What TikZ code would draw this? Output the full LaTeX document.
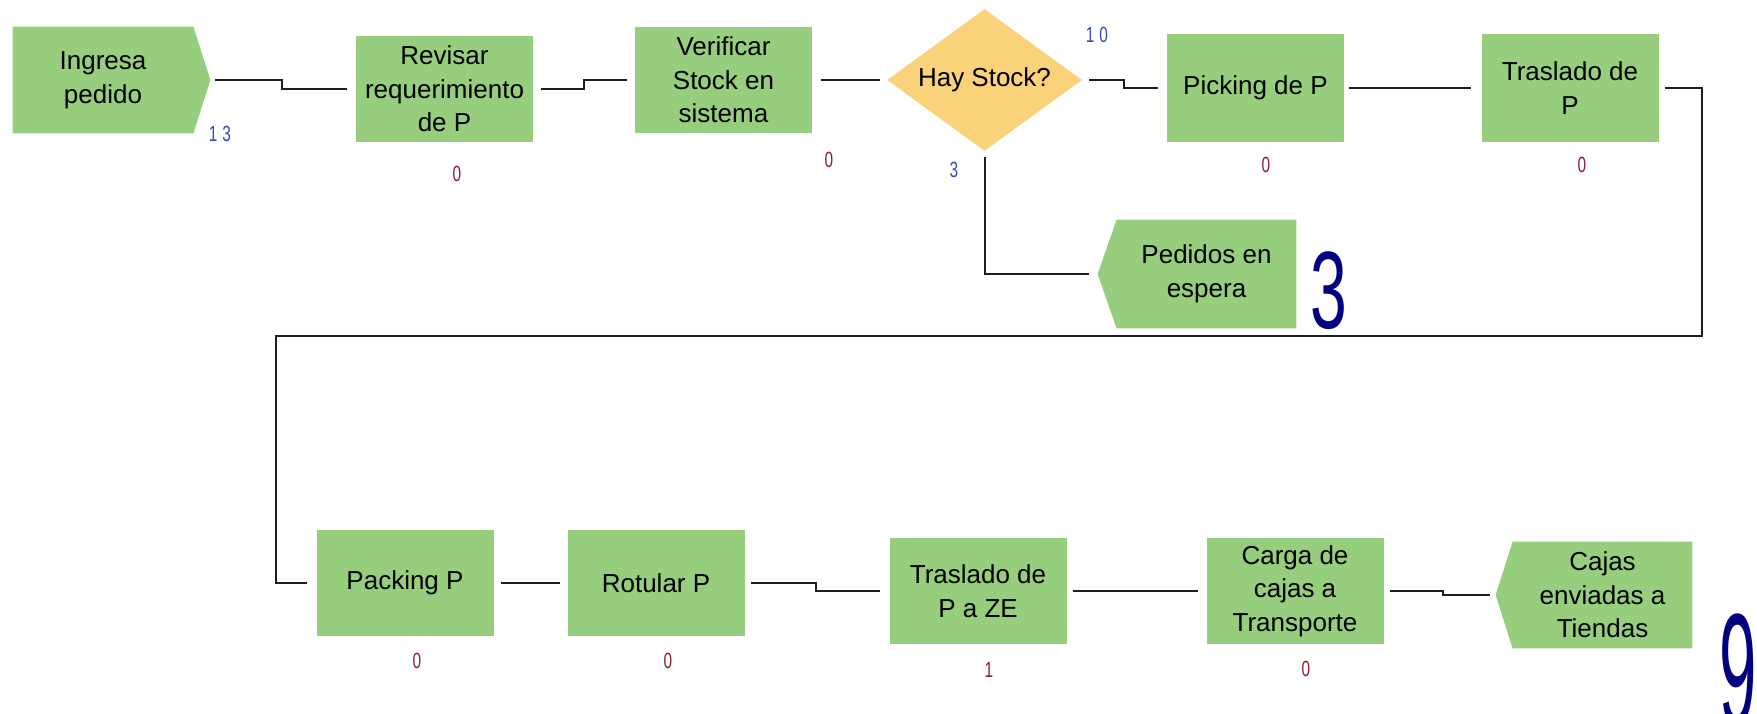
\documentclass[tikz,border=0pt]{standalone}
\usepackage{fontspec}
\setmainfont{Liberation Sans}
\usetikzlibrary{shapes.geometric,backgrounds}
\definecolor{boxgreen}{RGB}{150,206,125}
\definecolor{diayellow}{RGB}{250,210,122}
\definecolor{lblred}{RGB}{140,30,50}
\definecolor{lblblue}{RGB}{60,70,200}
\definecolor{bignavy}{RGB}{0,0,128}
\definecolor{linecol}{RGB}{30,30,30}
\tikzset{
  proc/.style={rectangle, fill=boxgreen, inner sep=0pt, minimum width=88.5pt, minimum height=53pt, align=center, font=\fontsize{13}{16.8}\selectfont},
  bodybox/.style={rectangle, inner sep=0pt, minimum width=90pt, minimum height=53pt, align=center, font=\fontsize{13}{16.8}\selectfont},
  decision/.style={diamond, fill=diayellow, inner sep=0pt, minimum width=97.5pt, minimum height=71pt, aspect=1.37, align=center, font=\fontsize{13}{16.8}\selectfont},
  conn/.style={draw=linecol, line width=1pt},
  cnt/.style={text=lblred, inner sep=0pt, font=\fontsize{11}{11}\selectfont, xscale=0.7},
  cntb/.style={text=lblblue, inner sep=0pt, font=\fontsize{11}{11}\selectfont, xscale=0.7},
  big/.style={text=bignavy, inner sep=0pt}
}
\begin{document}
\begin{tikzpicture}[x=0.5pt, y=-0.5pt]
\useasboundingbox (0,0) rectangle (1757,713);

% input / output shapes (body + pointer)
\node[bodybox] (in) at (103,80) {Ingresa\\pedido};
\node[bodybox, minimum width=89.5pt, minimum height=54pt] (ped) at (1206.5,274) {Pedidos en\\espera};
\node[bodybox, minimum width=89.5pt, minimum height=53pt] (out) at (1602.5,595) {Cajas\\enviadas a\\Tiendas};
\begin{scope}[on background layer]
\fill[boxgreen] (in.north west) -- (in.north east) -- ([xshift=8.5pt]in.east) -- (in.south east) -- (in.south west) -- cycle;
\fill[boxgreen] (ped.north east) -- (ped.north west) -- ([xshift=-9.5pt]ped.west) -- (ped.south west) -- (ped.south east) -- cycle;
\fill[boxgreen] (out.north east) -- (out.north west) -- ([xshift=-8.5pt]out.west) -- (out.south west) -- (out.south east) -- cycle;
\end{scope}

% process boxes
\node[proc] (rev) at (444.5,89) {Revisar\\requerimiento\\de P};
\node[proc] (ver) at (723.5,80) {Verificar\\Stock en\\sistema};
\node[decision] (dia) at (984.5,80) {Hay Stock?};
\node[proc, minimum height=54pt] (pick) at (1255.5,88) {Picking de P};
\node[proc, minimum height=54pt] (tr) at (1570,88) {Traslado de\\P};
\node[proc] (pack) at (405,583) {Packing P};
\node[proc] (rot) at (656,583) {Rotular P};
\node[proc] (ze) at (978,591) {Traslado de\\P a ZE};
\node[proc] (car) at (1295,591) {Carga de\\cajas a\\Transporte};

% connectors
\draw[conn] ([xshift=11pt]in.east) -- ++(67,0) |- ([xshift=-4.5pt]rev.west);
\draw[conn] ([xshift=4pt]rev.east) -- ++(43,0) |- ([xshift=-4pt]ver.west);
\draw[conn] ([xshift=4.5pt]ver.east) -- ([xshift=-3.5pt]dia.west);
\draw[conn] ([xshift=3.5pt]dia.east) -- ++(35,0) |- ([xshift=-4.5pt]pick.west);
\draw[conn] ([xshift=2.5pt]pick.east) -- ([xshift=-5pt]tr.west);
\draw[conn] ([xshift=3pt]tr.east) -- ++(37,0) |- (276,336) |- ([xshift=-4.5pt]pack.west);
\draw[conn] ([yshift=-3pt]dia.south) |- ([xshift=-14pt]ped.west);
\draw[conn] ([xshift=3.5pt]pack.east) -- ([xshift=-3.5pt]rot.west);
\draw[conn] ([xshift=3pt]rot.east) -- ++(65,0) |- ([xshift=-4.5pt]ze.west);
\draw[conn] ([xshift=3pt]ze.east) -- ([xshift=-4pt]car.west);
\draw[conn] ([xshift=3pt]car.east) -- ++(53,0) |- ([xshift=-11.5pt]out.west);

% counters
\node[cntb] (c13) at (220,134) {1\hspace{3.5pt}3};
\node[cnt] (crev) at (457,174) {0};
\node[cnt] (cver) at (829,160) {0};
\node[cntb] (c10) at (1097,35) {1\hspace{3.5pt}0};
\node[cntb] (cdia) at (954,170) {3};
\node[cnt] (cpick) at (1266,165) {0};
\node[cnt] (ctr) at (1582,165) {0};
\node[cnt] (cpack) at (417,661) {0};
\node[cnt] (crot) at (668,661) {0};
\node[cnt] (cze) at (989,670) {1};
\node[cnt] (ccar) at (1306,669) {0};

% big totals
\node[big, font=\fontsize{55}{55}\selectfont, xscale=0.6] (bigthree) at (1329,291) {3};
\node[big, font=\fontsize{80}{80}\selectfont, xscale=0.42, anchor=north] (bignine) at (1738,613) {9};
\end{tikzpicture}
\end{document}
